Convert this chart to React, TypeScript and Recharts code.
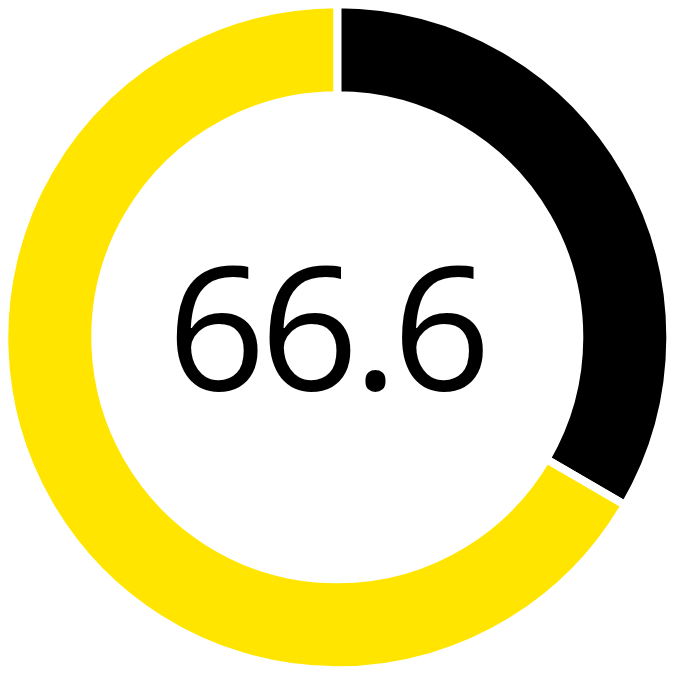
import { PieChart, Pie, Cell, Label } from "recharts"

const segments = ["Remainder", "Score"]
const values = [33.4, 66.6]
const colors = ["#000000", "#FFE500"]
const centerLabel = "66.6"

const data = segments.map((name, i) => ({ name, value: values[i] }))

// chart margin is zeroed so cx/cy are plain svg coordinates
export default function App() {
  return (
    <PieChart width={667} height={668} margin={{ top: 0, right: 0, bottom: 0, left: 0 }}>
      <Pie
        data={data}
        dataKey="value"
        nameKey="name"
        cx={329.3}
        cy={329.3}
        outerRadius={333}
        innerRadius={242}
        startAngle={90}
        endAngle={-270}
        stroke="#ffffff"
        strokeWidth={8}
        isAnimationActive={false}
      >
        {data.map((d, i) => (
          <Cell key={d.name} fill={colors[i]} />
        ))}
        <Label
          position="center"
          content={() => (
            <text
              x={318}
              y={382}
              textAnchor="middle"
              fontFamily="'Open Sans', sans-serif"
              fontSize={173}
              letterSpacing={-6}
              fill="#000000"
            >
              {centerLabel}
            </text>
          )}
        />
      </Pie>
    </PieChart>
  )
}
